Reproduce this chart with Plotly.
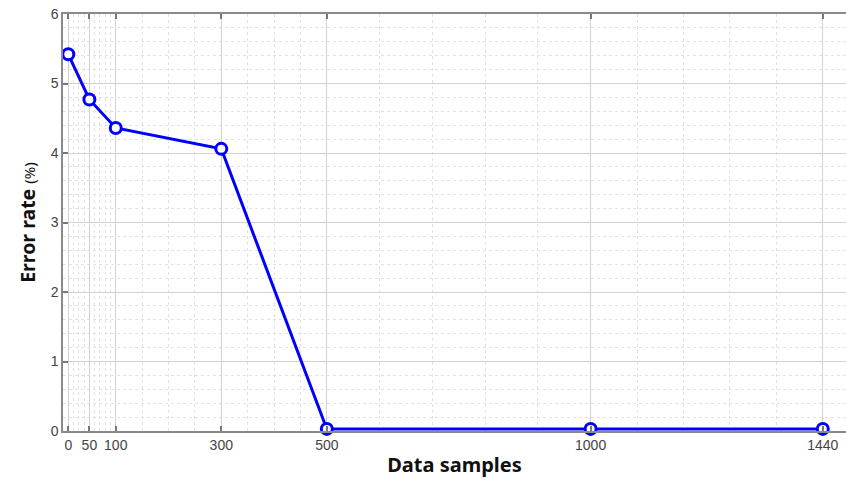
import plotly.graph_objects as go

# Data
samples = [10, 50, 100, 300, 500, 1000, 1440]
error_rate = [5.42, 4.77, 4.36, 4.06, 0.03, 0.03, 0.03]
x_tick_vals = [10, 50, 100, 300, 500, 1000, 1440]
x_tick_text = ["0", "50", "100", "300", "500", "1000", "1440"]
y_tick_vals = [0, 1, 2, 3, 4, 5, 6]

x_minor = ([v for v in range(20, 100, 10) if v != 50]
           + [150, 200, 250, 350, 400, 450, 600, 700, 800, 900, 1088, 1176, 1264, 1352])

fig = go.Figure()
fig.add_trace(go.Scatter(
    x=samples, y=error_rate, mode="lines+markers",
    line=dict(color="#0000ff", width=3),
    marker=dict(symbol="circle", size=11, color="white",
                line=dict(color="#0000ff", width=3)),
    showlegend=False, cliponaxis=False,
))

axis_common = dict(
    showline=True, linecolor="#8a8a8a", linewidth=1.5,
    ticks="inside", ticklen=5, tickcolor="#777777", tickwidth=1.5,
    showgrid=True, gridcolor="#d2d2d2", gridwidth=1,
    zeroline=False,
    tickfont=dict(family="Liberation Sans, Arial", size=14, color="#444444"),
)

fig.update_xaxes(
    range=[0, 1484], tickmode="array", tickvals=x_tick_vals, ticktext=x_tick_text,
    mirror="ticks",
    minor=dict(tickmode="array", tickvals=x_minor, showgrid=True,
               gridcolor="#e2e2e2", griddash="dot", gridwidth=1, ticks=""),
    title=dict(text="<b>Data samples</b>", standoff=6,
               font=dict(family="Noto Sans, Open Sans", size=20, color="#111111")),
    **axis_common,
)
fig.update_yaxes(
    range=[0, 6], tickmode="array", tickvals=y_tick_vals,
    mirror=False,
    minor=dict(dtick=0.2, tick0=0, showgrid=True,
               gridcolor="#e2e2e2", griddash="dot", gridwidth=1, ticks=""),
    title=dict(text="<b>Error rate</b> <span style='font-size:15px'>(%)</span>", standoff=10,
               font=dict(family="Noto Sans, Open Sans", size=19.5, color="#111111")),
    **axis_common,
)

fig.update_layout(
    width=846, height=482,
    margin=dict(l=63, r=0, t=14, b=51),
    paper_bgcolor="white", plot_bgcolor="white",
)

fig.write_html("out.html")
